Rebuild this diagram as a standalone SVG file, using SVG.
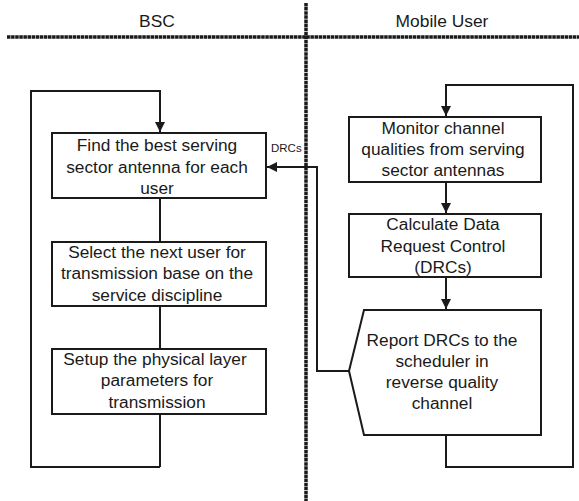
<svg xmlns="http://www.w3.org/2000/svg" width="579" height="501" viewBox="0 0 579 501">
<style>
.box{fill:#fff;stroke:#1a1a1a;stroke-width:2}
.ln{fill:none;stroke:#1a1a1a;stroke-width:2}
.t{font-family:"Liberation Sans",Arial,sans-serif;font-size:17.3px;fill:#1a1a1a;text-anchor:middle}
.h{font-family:"Liberation Sans",Arial,sans-serif;font-size:17.4px;fill:#1a1a1a;text-anchor:middle}
.s{font-family:"Liberation Sans",Arial,sans-serif;font-size:11.5px;fill:#1a1a1a}
.sep{fill:none;stroke:#1a1a1a;stroke-width:3.5;stroke-dasharray:3.5 0.6}
</style>
<defs>
<marker id="ah" viewBox="0 0 10 10" refX="10" refY="5" markerWidth="5" markerHeight="5" orient="auto" markerUnits="strokeWidth">
<path d="M0,0 L10,5 L0,10 z" fill="#1a1a1a"/>
</marker>
</defs>
<rect width="579" height="501" fill="#fff"/>
<g id="lanes">
<line class="sep" x1="7" y1="37" x2="579" y2="37"/>
<line class="sep" x1="306" y1="3" x2="306" y2="501"/>
<text class="h" x="157" y="27">BSC</text>
<text class="h" x="442" y="27">Mobile User</text>
</g>
<g id="connectors">
<path class="ln" d="M160,467 L31,467 L31,91 L160,91 L160,132" marker-end="url(#ah)"/>
<path class="ln" d="M160,198 L160,242"/>
<path class="ln" d="M160,306 L160,349"/>
<path class="ln" d="M160,414 L160,467"/>
<path class="ln" d="M446,435 L446,467 L573,467 L573,85 L446,85 L446,116" marker-end="url(#ah)"/>
<path class="ln" d="M446,182 L446,213" marker-end="url(#ah)"/>
<path class="ln" d="M446,277 L446,309" marker-end="url(#ah)"/>
<path class="ln" d="M349,371 L317,371 L317,167 L267,167" marker-end="url(#ah)"/>
<text class="s" x="271" y="152">DRCs</text>
</g>
<g id="n1">
<rect class="box" x="52" y="133" width="214" height="65"/>
<text class="t" x="157" y="151">Find the best serving</text>
<text class="t" x="157" y="172.5">sector antenna for each</text>
<text class="t" x="157" y="194">user</text>
</g>
<g id="n2">
<rect class="box" x="52" y="242" width="214" height="64"/>
<text class="t" x="157" y="258">Select the next user for</text>
<text class="t" x="157" y="279">transmission base on the</text>
<text class="t" x="157" y="300.5">service discipline</text>
</g>
<g id="n3">
<rect class="box" x="52" y="349" width="214" height="65"/>
<text class="t" x="155" y="365">Setup the physical layer</text>
<text class="t" x="157" y="386">parameters for</text>
<text class="t" x="157" y="407.5">transmission</text>
</g>
<g id="n4">
<rect class="box" x="349" y="117" width="192" height="65"/>
<text class="t" x="443" y="133.5">Monitor channel</text>
<text class="t" x="443" y="155">qualities from serving</text>
<text class="t" x="443" y="176">sector antennas</text>
</g>
<g id="n5">
<rect class="box" x="349" y="214" width="192" height="63"/>
<text class="t" x="443" y="230">Calculate Data</text>
<text class="t" x="443" y="252">Request Control</text>
<text class="t" x="443" y="273">(DRCs)</text>
</g>
<g id="n6">
<path class="box" d="M364,310 L541,310 L541,435 L364,435 L349,371 z"/>
<text class="t" x="442" y="346">Report DRCs to the</text>
<text class="t" x="442" y="367">scheduler in</text>
<text class="t" x="442" y="388">reverse quality</text>
<text class="t" x="442" y="409">channel</text>
</g>
</svg>
